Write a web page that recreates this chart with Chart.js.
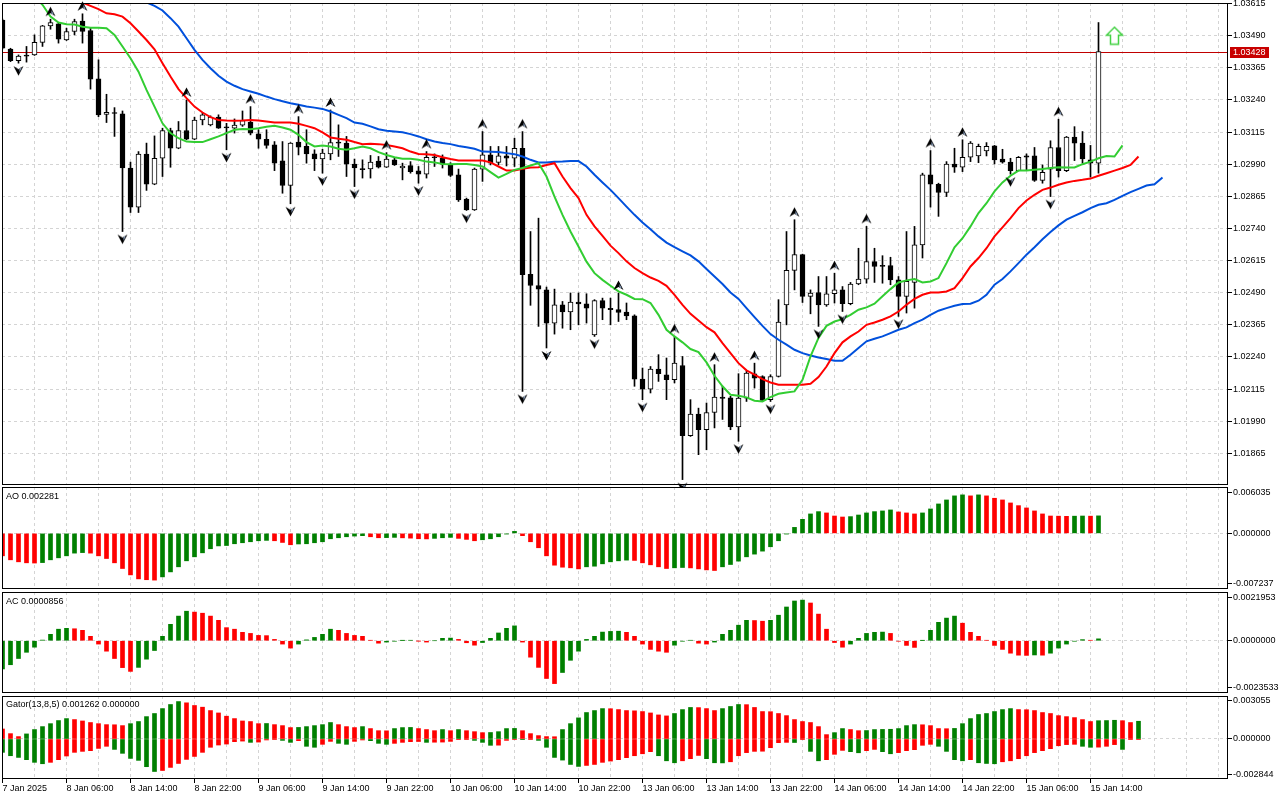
<!DOCTYPE html>
<html>
<head>
<meta charset="utf-8">
<script src="https://cdn.jsdelivr.net/npm/chart.js@4.4.1/dist/chart.umd.min.js"></script>
<style>
  body { margin: 0; background: #fff; width: 1280px; height: 800px; overflow: hidden; position: relative;
         font-family: "Liberation Sans", Arial, sans-serif; }
  canvas { position: absolute; left: 0; }
  .lbl { position: absolute; left: 6px; font-size: 9px; line-height: 11px; color: #000; white-space: nowrap; }
</style>
</head>
<body>
<canvas id="main" width="1280" height="487" style="top:0"></canvas>
<canvas id="ao" width="1280" height="104" style="top:486px"></canvas>
<canvas id="ac" width="1280" height="101" style="top:592px"></canvas>
<canvas id="gator" width="1280" height="105" style="top:695px"></canvas>
<div class="lbl" style="top:491px">AO 0.002281</div>
<div class="lbl" style="top:596px">AC 0.0000856</div>
<div class="lbl" style="top:699px">Gator(13,8,5) 0.001262 0.000000</div>
<script>
// EURUSD-style H1 bars, 7 Jan 22:00 .. 15 Jan 15:00
const opens = [1.03551,1.03438,1.03393,1.03414,1.03415,1.03464,1.03528,1.03536,1.03473,1.03506,
  1.03547,1.03510,1.03322,1.03184,1.03191,1.03186,1.02975,1.02823,1.03029,1.02912,
  1.03013,1.03121,1.03052,1.03121,1.03087,1.03162,1.03143,1.03173,1.03134,1.03130,
  1.03142,1.03153,1.03108,1.03087,1.03065,1.03003,1.02907,1.03076,1.03059,1.03030,
  1.03010,1.03030,1.03076,1.03072,1.02990,1.02972,1.02972,1.03002,1.02978,1.03007,
  1.02975,1.02985,1.02964,1.02951,1.03018,1.03013,1.02987,1.02949,1.02854,1.02812,
  1.02971,1.03026,1.02997,1.03022,1.03013,1.03052,1.02562,1.02518,1.02501,1.02372,
  1.02443,1.02415,1.02454,1.02447,1.02326,1.02459,1.02429,1.02424,1.02415,1.02400,
  1.02154,1.02115,1.02193,1.02171,1.02152,1.02207,1.01934,1.02018,1.01957,1.02024,
  1.02084,1.02081,1.01968,1.02080,1.02174,1.02164,1.02074,1.02164,1.02443,1.02577,
  1.02638,1.02476,1.02491,1.02443,1.02486,1.02501,1.02447,1.02524,1.02543,1.02611,
  1.02597,1.02596,1.02540,1.02476,1.02530,1.02676,1.02949,1.02912,1.02880,1.02990,
  1.02978,1.03017,1.03022,1.03042,1.03061,1.03010,1.02998,1.02965,1.03022,1.03022,
  1.02927,1.02971,1.03055,1.02965,1.03095,1.03072,1.03007,1.02994];
const highs = [1.03554,1.03441,1.03415,1.03448,1.03493,1.03530,1.03554,1.03541,1.03519,1.03554,
  1.03575,1.03519,1.03396,1.03262,1.03210,1.03197,1.02998,1.03039,1.03072,1.03100,
  1.03130,1.03130,1.03156,1.03240,1.03173,1.03191,1.03178,1.03182,1.03149,1.03166,
  1.03197,1.03214,1.03124,1.03124,1.03078,1.03078,1.03074,1.03175,1.03124,1.03046,
  1.03048,1.03201,1.03143,1.03098,1.03010,1.03007,1.03024,1.03020,1.03035,1.03013,
  1.02994,1.03000,1.02981,1.03039,1.03030,1.03026,1.02996,1.02971,1.02858,1.02975,
  1.03117,1.03059,1.03059,1.03059,1.03091,1.03117,1.02728,1.02780,1.02512,1.02504,
  1.02456,1.02489,1.02489,1.02486,1.02463,1.02469,1.02469,1.02489,1.02450,1.02404,
  1.02197,1.02203,1.02249,1.02236,1.02320,1.02242,1.02074,1.02041,1.02061,1.02210,
  1.02126,1.02087,1.02175,1.02184,1.02216,1.02167,1.02171,1.02463,1.02728,1.02774,
  1.02640,1.02501,1.02553,1.02553,1.02566,1.02514,1.02530,1.02663,1.02748,1.02663,
  1.02634,1.02628,1.02553,1.02728,1.02748,1.02955,1.03043,1.02916,1.03000,1.03052,
  1.03085,1.03078,1.03068,1.03074,1.03063,1.03048,1.03013,1.03020,1.03030,1.03055,
  1.02987,1.03081,1.03165,1.03098,1.03136,1.03117,1.03063,1.03541];
const lows = [1.03438,1.03389,1.03383,1.03387,1.03413,1.03448,1.03515,1.03461,1.03471,1.03493,
  1.03461,1.03282,1.03175,1.03152,1.03098,1.02728,1.02802,1.02802,1.02888,1.02910,
  1.02942,1.02978,1.03050,1.03085,1.03085,1.03143,1.03139,1.03129,1.03046,1.03111,
  1.03137,1.03104,1.03052,1.03052,1.02965,1.02877,1.02836,1.03026,1.02994,1.02965,
  1.02955,1.03007,1.03020,1.02942,1.02903,1.02936,1.02936,1.02975,1.02977,1.02985,
  1.02929,1.02955,1.02916,1.02936,1.02981,1.02975,1.02942,1.02845,1.02810,1.02810,
  1.02923,1.02987,1.02987,1.02983,1.02981,1.02106,1.02441,1.02359,1.02275,1.02329,
  1.02352,1.02346,1.02365,1.02372,1.02320,1.02385,1.02365,1.02378,1.02385,1.02126,
  1.02074,1.02100,1.02145,1.02074,1.02139,1.01763,1.01931,1.01860,1.01879,1.01964,
  1.01997,1.01957,1.01912,1.02067,1.02119,1.02067,1.02067,1.02162,1.02365,1.02501,
  1.02452,1.02408,1.02359,1.02437,1.02450,1.02417,1.02443,1.02521,1.02527,1.02530,
  1.02527,1.02521,1.02398,1.02411,1.02430,1.02625,1.02823,1.02787,1.02864,1.02958,
  1.02961,1.03000,1.02996,1.03022,1.02991,1.02994,1.02951,1.02964,1.02968,1.02923,
  1.02916,1.02864,1.02940,1.02961,1.03004,1.02994,1.02940,1.02955];
const closes = [1.03441,1.03393,1.03411,1.03410,1.03464,1.03528,1.03541,1.03476,1.03506,1.03545,
  1.03506,1.03321,1.03182,1.03192,1.03187,1.02975,1.02823,1.03029,1.02912,1.03013,
  1.03121,1.03052,1.03121,1.03087,1.03162,1.03182,1.03173,1.03130,1.03131,1.03142,
  1.03160,1.03111,1.03087,1.03063,1.02994,1.02907,1.03072,1.03056,1.03030,1.03010,
  1.03033,1.03074,1.03072,1.02990,1.02975,1.02969,1.02998,1.02978,1.03010,1.02987,
  1.02983,1.02961,1.02951,1.03017,1.03015,1.02990,1.02946,1.02851,1.02812,1.02971,
  1.03026,1.02994,1.03022,1.03013,1.03052,1.02560,1.02518,1.02504,1.02372,1.02443,
  1.02415,1.02454,1.02446,1.02430,1.02459,1.02430,1.02424,1.02413,1.02400,1.02154,
  1.02115,1.02193,1.02175,1.02152,1.02216,1.01934,1.02018,1.01957,1.02024,1.02084,
  1.02079,1.01968,1.02080,1.02177,1.02158,1.02071,1.02164,1.02376,1.02577,1.02638,
  1.02476,1.02489,1.02443,1.02486,1.02501,1.02447,1.02524,1.02543,1.02611,1.02592,
  1.02592,1.02540,1.02476,1.02534,1.02676,1.02949,1.02912,1.02880,1.02990,1.02978,
  1.03017,1.03072,1.03059,1.03059,1.03007,1.02998,1.02965,1.03017,1.03017,1.02927,
  1.02958,1.03055,1.02965,1.03095,1.03072,1.03010,1.02994,1.03428];
const lastPrice = 1.03428;

// bars carrying a fractal
const fractalUp = [6,10,23,31,37,41,48,53,60,65,77,84,89,94,99,104,108,116,120,132];
const fractalDown = [2,15,28,36,40,44,52,58,65,68,74,80,85,92,96,102,105,112,126,131];

// alligator lines (already shifted forward), first bar index + values
const jawFrom = 16;
const jaw = [1.03681,1.03648,1.03619,1.03606,1.03588,1.03558,1.03525,1.03480,1.03435,1.03396,
  1.03363,1.03334,1.03311,1.03295,1.03282,1.03273,1.03264,1.03253,1.03243,1.03235,
  1.03227,1.03221,1.03214,1.03210,1.03205,1.03195,1.03182,1.03169,1.03152,1.03147,
  1.03137,1.03126,1.03120,1.03117,1.03114,1.03107,1.03098,1.03087,1.03078,1.03072,
  1.03068,1.03061,1.03056,1.03050,1.03039,1.03038,1.03037,1.03033,1.03029,1.03020,
  1.03007,1.02997,1.02997,1.02999,1.03000,1.03002,1.03002,1.02981,1.02949,1.02919,
  1.02890,1.02858,1.02825,1.02793,1.02763,1.02737,1.02709,1.02685,1.02667,1.02651,
  1.02635,1.02612,1.02582,1.02553,1.02524,1.02491,1.02466,1.02430,1.02395,1.02361,
  1.02329,1.02307,1.02288,1.02268,1.02255,1.02246,1.02238,1.02232,1.02225,1.02225,
  1.02249,1.02275,1.02301,1.02311,1.02320,1.02333,1.02346,1.02355,1.02372,1.02385,
  1.02404,1.02420,1.02430,1.02439,1.02446,1.02447,1.02459,1.02482,1.02521,1.02543,
  1.02573,1.02605,1.02638,1.02667,1.02698,1.02726,1.02752,1.02774,1.02789,1.02803,
  1.02819,1.02832,1.02838,1.02851,1.02867,1.02881,1.02894,1.02907,1.02912,1.02938];
const teethFrom = 9;
const teeth = [1.03635,1.03619,1.03606,1.03593,1.03577,1.03573,1.03564,1.03538,1.03506,1.03473,
  1.03437,1.03383,1.03331,1.03282,1.03247,1.03214,1.03191,1.03173,1.03162,1.03160,
  1.03159,1.03160,1.03162,1.03160,1.03156,1.03152,1.03152,1.03152,1.03147,1.03139,
  1.03130,1.03114,1.03094,1.03089,1.03085,1.03076,1.03068,1.03069,1.03068,1.03065,
  1.03059,1.03052,1.03039,1.03030,1.03029,1.03026,1.03017,1.03010,1.03004,1.03004,
  1.03004,1.03004,1.02997,1.02981,1.02965,1.02965,1.02972,1.02977,1.02978,1.02987,
  1.02994,1.02942,1.02897,1.02858,1.02793,1.02748,1.02711,1.02673,1.02644,1.02612,
  1.02586,1.02566,1.02549,1.02536,1.02517,1.02482,1.02443,1.02408,1.02382,1.02356,
  1.02336,1.02294,1.02255,1.02216,1.02188,1.02171,1.02154,1.02141,1.02132,1.02132,
  1.02132,1.02132,1.02136,1.02162,1.02203,1.02255,1.02297,1.02320,1.02339,1.02365,
  1.02374,1.02385,1.02398,1.02417,1.02443,1.02466,1.02482,1.02491,1.02491,1.02495,
  1.02508,1.02547,1.02592,1.02625,1.02663,1.02709,1.02744,1.02780,1.02819,1.02849,
  1.02871,1.02890,1.02899,1.02910,1.02919,1.02925,1.02929,1.02934,1.02945,1.02955,
  1.02965,1.02975,1.02987,1.03020];
const lipsFrom = 4;
const lips = [1.03642,1.03610,1.03564,1.03541,1.03534,1.03533,1.03525,1.03521,1.03521,1.03519,
  1.03493,1.03448,1.03402,1.03350,1.03279,1.03214,1.03149,1.03111,1.03091,1.03078,
  1.03076,1.03076,1.03087,1.03098,1.03111,1.03124,1.03127,1.03126,1.03130,1.03136,
  1.03139,1.03133,1.03124,1.03104,1.03076,1.03059,1.03063,1.03059,1.03050,1.03046,
  1.03052,1.03059,1.03052,1.03037,1.03026,1.03017,1.03011,1.03011,1.03007,1.03000,
  1.02997,1.02991,1.02990,1.02991,1.02991,1.02987,1.02981,1.02959,1.02938,1.02952,
  1.02968,1.02975,1.02985,1.02994,1.02942,1.02864,1.02793,1.02728,1.02670,1.02611,
  1.02566,1.02540,1.02517,1.02495,1.02482,1.02466,1.02465,1.02450,1.02404,1.02346,
  1.02320,1.02297,1.02271,1.02259,1.02219,1.02167,1.02126,1.02093,1.02089,1.02083,
  1.02070,1.02067,1.02084,1.02097,1.02102,1.02106,1.02151,1.02242,1.02314,1.02361,
  1.02378,1.02387,1.02404,1.02424,1.02433,1.02447,1.02476,1.02504,1.02530,1.02538,
  1.02543,1.02530,1.02534,1.02547,1.02605,1.02667,1.02702,1.02748,1.02800,1.02838,
  1.02884,1.02919,1.02945,1.02965,1.02965,1.02968,1.02971,1.02975,1.02978,1.02977,
  1.02977,1.02990,1.03000,1.03013,1.03022,1.03020,1.03063];

const signalBar = 139;
const signalPrice = 1.03490;

const ao = [-0.00292,-0.00344,-0.00370,-0.00383,-0.00386,-0.00380,-0.00344,-0.00318,-0.00292,-0.00257,
  -0.00250,-0.00257,-0.00292,-0.00327,-0.00383,-0.00457,-0.00540,-0.00592,-0.00603,-0.00608,
  -0.00566,-0.00501,-0.00435,-0.00357,-0.00305,-0.00253,-0.00200,-0.00163,-0.00158,-0.00135,
  -0.00122,-0.00109,-0.00096,-0.00091,-0.00096,-0.00118,-0.00148,-0.00138,-0.00135,-0.00122,
  -0.00109,-0.00070,-0.00057,-0.00044,-0.00035,-0.00030,-0.00044,-0.00057,-0.00055,-0.00052,
  -0.00058,-0.00062,-0.00070,-0.00072,-0.00065,-0.00057,-0.00052,-0.00065,-0.00078,-0.00096,
  -0.00083,-0.00070,-0.00044,-0.00009,0.00026,-0.00030,-0.00109,-0.00187,-0.00292,-0.00414,
  -0.00440,-0.00448,-0.00462,-0.00435,-0.00427,-0.00396,-0.00370,-0.00357,-0.00348,-0.00352,
  -0.00383,-0.00409,-0.00435,-0.00457,-0.00448,-0.00444,-0.00449,-0.00462,-0.00475,-0.00483,
  -0.00435,-0.00405,-0.00361,-0.00305,-0.00270,-0.00231,-0.00174,-0.00096,-0.00009,0.00078,
  0.00183,0.00253,0.00283,0.00266,0.00226,0.00213,0.00218,0.00239,0.00266,0.00283,
  0.00292,0.00305,0.00279,0.00266,0.00253,0.00266,0.00318,0.00383,0.00435,0.00488,
  0.00501,0.00488,0.00501,0.00488,0.00457,0.00435,0.00396,0.00361,0.00331,0.00292,
  0.00253,0.00226,0.00224,0.00222,0.00224,0.00226,0.00224,0.00228];
const ac = [-0.00127,-0.00108,-0.00080,-0.00052,-0.00029,0.00003,0.00029,0.00052,0.00056,0.00054,
  0.00047,0.00020,-0.00015,-0.00047,-0.00080,-0.00121,-0.00138,-0.00120,-0.00083,-0.00044,
  0.00020,0.00074,0.00111,0.00133,0.00129,0.00124,0.00111,0.00092,0.00059,0.00052,
  0.00038,0.00033,0.00024,0.00023,0.00006,-0.00015,-0.00033,-0.00015,0.00004,0.00015,
  0.00029,0.00052,0.00047,0.00033,0.00024,0.00020,0.00002,-0.00011,-0.00006,-0.00002,
  0.00001,0.00002,-0.00001,-0.00006,0.00000,0.00011,0.00012,0.00006,-0.00009,-0.00020,
  -0.00008,0.00011,0.00035,0.00056,0.00067,-0.00006,-0.00074,-0.00120,-0.00170,-0.00193,
  -0.00143,-0.00088,-0.00047,0.00006,0.00020,0.00039,0.00042,0.00043,0.00038,0.00020,
  -0.00015,-0.00039,-0.00047,-0.00052,-0.00020,-0.00002,0.00002,-0.00011,-0.00015,-0.00006,
  0.00029,0.00047,0.00070,0.00092,0.00091,0.00088,0.00092,0.00115,0.00152,0.00179,
  0.00183,0.00170,0.00120,0.00052,-0.00008,-0.00029,-0.00015,0.00011,0.00033,0.00038,
  0.00039,0.00033,-0.00002,-0.00021,-0.00030,0.00001,0.00047,0.00083,0.00102,0.00111,
  0.00079,0.00038,0.00020,0.00002,-0.00021,-0.00039,-0.00056,-0.00065,-0.00066,-0.00064,
  -0.00065,-0.00056,-0.00033,-0.00015,-0.00002,0.00005,0.00002,0.0000856];
const gatorUp = [0.00071,0.00038,0.00017,0.00036,0.00067,0.00088,0.00109,0.00131,0.00145,0.00138,
  0.00128,0.00117,0.00109,0.00102,0.00101,0.00095,0.00109,0.00124,0.00159,0.00181,
  0.00216,0.00245,0.00266,0.00257,0.00238,0.00226,0.00202,0.00185,0.00162,0.00145,
  0.00128,0.00124,0.00109,0.00110,0.00102,0.00095,0.00081,0.00082,0.00088,0.00095,
  0.00102,0.00117,0.00102,0.00088,0.00081,0.00088,0.00074,0.00059,0.00058,0.00074,
  0.00081,0.00082,0.00074,0.00067,0.00059,0.00067,0.00059,0.00067,0.00059,0.00052,
  0.00045,0.00046,0.00052,0.00074,0.00075,0.00059,0.00038,0.00024,0.00017,0.00016,
  0.00067,0.00109,0.00150,0.00188,0.00202,0.00216,0.00215,0.00209,0.00202,0.00200,
  0.00195,0.00185,0.00171,0.00164,0.00181,0.00209,0.00224,0.00223,0.00216,0.00202,
  0.00216,0.00231,0.00245,0.00244,0.00224,0.00195,0.00194,0.00181,0.00166,0.00138,
  0.00124,0.00117,0.00088,0.00031,0.00045,0.00074,0.00067,0.00059,0.00060,0.00067,
  0.00068,0.00069,0.00074,0.00095,0.00102,0.00101,0.00095,0.00074,0.00073,0.00075,
  0.00109,0.00145,0.00174,0.00181,0.00195,0.00209,0.00216,0.00209,0.00208,0.00202,
  0.00188,0.00181,0.00166,0.00159,0.00152,0.00138,0.00124,0.00130,0.00131,0.00133,
  0.00130,0.00117,0.00126];
const gatorDown = [-0.00095,-0.00119,-0.00131,-0.00147,-0.00166,-0.00176,-0.00166,-0.00147,-0.00121,-0.00095,
  -0.00088,-0.00083,-0.00067,-0.00052,-0.00074,-0.00102,-0.00138,-0.00152,-0.00197,-0.00231,
  -0.00224,-0.00202,-0.00174,-0.00145,-0.00124,-0.00095,-0.00059,-0.00043,-0.00036,-0.00019,
  -0.00015,-0.00024,-0.00022,-0.00007,-0.00002,-0.00010,-0.00024,-0.00012,-0.00052,-0.00059,
  -0.00038,-0.00017,-0.00031,-0.00038,-0.00017,-0.00007,-0.00012,-0.00031,-0.00038,-0.00031,
  -0.00024,-0.00019,-0.00018,-0.00024,-0.00023,-0.00022,-0.00017,-0.00005,-0.00002,-0.00010,
  -0.00024,-0.00045,-0.00044,-0.00010,-0.00002,-0.00005,-0.00002,-0.00010,-0.00059,-0.00131,
  -0.00150,-0.00181,-0.00195,-0.00188,-0.00181,-0.00166,-0.00157,-0.00147,-0.00133,-0.00119,
  -0.00105,-0.00090,-0.00119,-0.00155,-0.00169,-0.00155,-0.00140,-0.00117,-0.00140,-0.00169,
  -0.00170,-0.00162,-0.00119,-0.00097,-0.00088,-0.00087,-0.00062,-0.00026,-0.00024,-0.00025,
  -0.00002,-0.00088,-0.00155,-0.00147,-0.00109,-0.00081,-0.00090,-0.00098,-0.00083,-0.00074,
  -0.00090,-0.00105,-0.00097,-0.00083,-0.00076,-0.00045,-0.00038,-0.00052,-0.00088,-0.00147,
  -0.00155,-0.00147,-0.00169,-0.00174,-0.00176,-0.00162,-0.00155,-0.00140,-0.00119,-0.00097,
  -0.00083,-0.00069,-0.00048,-0.00040,-0.00038,-0.00052,-0.00059,-0.00058,-0.00052,-0.00040,
  -0.00074,-0.00002,-0.00001];

// one label every 8 bars, starting at bar 0
const timeLabels = ['7 Jan 2025','8 Jan 06:00','8 Jan 14:00','8 Jan 22:00','9 Jan 06:00','9 Jan 14:00',
  '9 Jan 22:00','10 Jan 06:00','10 Jan 14:00','10 Jan 22:00','13 Jan 06:00','13 Jan 14:00',
  '13 Jan 22:00','14 Jan 06:00','14 Jan 14:00','14 Jan 22:00','15 Jan 06:00','15 Jan 14:00'];
const priceTicks = [1.01865,1.01990,1.02115,1.02240,1.02365,1.02490,1.02615,1.02740,
  1.02865,1.02990,1.03115,1.03240,1.03365,1.03490,1.03615];
const priceRange = [1.01742, 1.03617];
const aoRange = [-0.007237, 0.006035];
const acRange = [-0.0023533, 0.0021953];
const gatorRange = [-0.002844, 0.003055];

Chart.defaults.font.family = '"Liberation Sans", Arial, sans-serif';
Chart.defaults.font.size = 9;
Chart.defaults.color = '#000';
Chart.defaults.animation = false;
Chart.defaults.responsive = false;
Chart.defaults.devicePixelRatio = 1;
Chart.defaults.events = [];
Chart.defaults.plugins.legend.display = false;
Chart.defaults.plugins.tooltip.enabled = false;

const GRID = '#d4d4d4';
const UP = '#008000', DOWN = '#ff0000';
const X_MIN = -0.0625, X_MAX = X_MIN + 1226 / 8;   // 8 px per bar
const NONE = 'rgba(0,0,0,0)';

// black frame round each pane
const frame = {
  id: 'frame',
  afterDraw(chart) {
    const { ctx, chartArea: a } = chart;
    ctx.save();
    ctx.strokeStyle = '#000';
    ctx.lineWidth = 1;
    ctx.strokeRect(Math.round(a.left) + 0.5, Math.round(a.top) + 0.5,
      Math.round(a.right - a.left) - 1, Math.round(a.bottom - a.top) - 1);
    ctx.restore();
  }
};

const priceLine = {
  id: 'priceLine',
  beforeDatasetsDraw(chart) {
    const { ctx, chartArea: a, scales } = chart;
    const y = Math.round(scales.y.getPixelForValue(lastPrice)) + 0.5;
    ctx.save();
    ctx.strokeStyle = '#c00000';
    ctx.lineWidth = 1;
    ctx.beginPath(); ctx.moveTo(a.left, y); ctx.lineTo(a.right, y); ctx.stroke();
    ctx.restore();
  },
  afterDraw(chart) {
    const { ctx, chartArea: a, scales } = chart;
    const y = Math.round(scales.y.getPixelForValue(lastPrice));
    ctx.save();
    ctx.fillStyle = '#c80000';
    ctx.fillRect(a.right + 2, y - 5, 39, 11);
    ctx.fillStyle = '#fff';
    ctx.font = '9px "Liberation Sans", Arial, sans-serif';
    ctx.textBaseline = 'middle';
    ctx.fillText(lastPrice.toFixed(5), a.right + 5, y + 0.5);
    ctx.restore();
  }
};

function xAxis(withLabels) {
  return {
    type: 'linear', min: X_MIN, max: X_MAX, offset: false,
    grid: {
      offset: false, color: GRID, drawTicks: withLabels, tickLength: 4,
      tickColor: c => (c.tick && c.tick.value % 8 === 0 && timeLabels[c.tick.value / 8]) ? '#000' : NONE
    },
    border: { display: false, dash: [3, 3] },
    ticks: {
      display: withLabels, autoSkip: false, maxRotation: 0, minRotation: 0, align: 'start', padding: 0,
      callback: v => (v % 8 === 0 && timeLabels[v / 8]) ? timeLabels[v / 8] : ''
    },
    afterBuildTicks: s => {
      const t = [];
      for (let v = 0; v <= X_MAX; v += 4) t.push({ value: v });
      s.ticks = t;
    },
    afterFit: s => { s.height = withLabels ? 21 : 0; s.paddingLeft = 0; s.paddingRight = 0; }
  };
}

function indicatorY(range, digits) {
  const shown = [range[0], 0, range[1]];
  return {
    position: 'right', min: range[0], max: range[1],
    grid: { color: c => (c.tick && c.tick.value === 0) ? GRID : NONE, tickLength: 4, tickColor: '#000' },
    border: { display: false, dash: [3, 3] },
    ticks: { padding: 1, autoSkip: false, callback: (v, i) => shown[i].toFixed(digits) },
    // end labels sit just inside the pane, like the terminal does
    afterBuildTicks: s => {
      const span = range[1] - range[0];
      s.ticks = [{ value: range[0] + span * 0.05 }, { value: 0 }, { value: range[1] - span * 0.05 }];
    },
    afterFit: s => { s.width = 52; s.paddingTop = 0; s.paddingBottom = 0; }
  };
}

function risingColors(vals, firstUp, byMagnitude) {
  return vals.map((v, i) => {
    const up = i === 0 ? firstUp
      : byMagnitude ? Math.abs(v) > Math.abs(vals[i - 1]) : v > vals[i - 1];
    return up ? UP : DOWN;
  });
}

function arrowImage(up) {
  const c = document.createElement('canvas');
  c.width = 11; c.height = 30;
  const g = c.getContext('2d');
  if (!up) { g.translate(0, 30); g.scale(1, -1); }
  g.beginPath(); g.moveTo(5.5, 2.5); g.lineTo(10.5, 12); g.lineTo(5.5, 9); g.lineTo(0.5, 12); g.closePath();
  g.fillStyle = '#000'; g.fill();
  // thin light facet on the right side
  g.beginPath(); g.moveTo(6.5, 6); g.lineTo(8.8, 10.6); g.lineTo(6.5, 9.2); g.closePath();
  g.fillStyle = '#9ab4d8'; g.fill();
  return c;
}

function signalImage() {
  const c = document.createElement('canvas');
  c.width = 19; c.height = 20;
  const g = c.getContext('2d');
  g.beginPath();
  g.moveTo(9.5, 1.5); g.lineTo(17.5, 9.5); g.lineTo(13.5, 9.5); g.lineTo(13.5, 18.5);
  g.lineTo(5.5, 18.5); g.lineTo(5.5, 9.5); g.lineTo(1.5, 9.5); g.closePath();
  g.fillStyle = '#fff'; g.fill();
  g.strokeStyle = '#46d246'; g.lineWidth = 1.5; g.stroke();
  return c;
}

const bars = opens.map((_, i) => i);
const alligator = (from, vals, color) => ({
  type: 'line', data: vals.map((v, k) => ({ x: from + k, y: v })),
  borderColor: color, borderWidth: 2, pointRadius: 0, tension: 0, order: 2
});

new Chart(document.getElementById('main'), {
  type: 'bar',
  data: {
    datasets: [
      { type: 'scatter', data: [{ x: signalBar, y: signalPrice }], pointStyle: signalImage(), pointRadius: 8, clip: false, order: 0 },
      { type: 'scatter', data: fractalUp.map(i => ({ x: i, y: highs[i] })), pointStyle: arrowImage(true), pointRadius: 5, clip: false, order: 1 },
      { type: 'scatter', data: fractalDown.map(i => ({ x: i, y: lows[i] })), pointStyle: arrowImage(false), pointRadius: 5, clip: false, order: 1 },
      alligator(lipsFrom, lips, '#32cd32'),
      alligator(teethFrom, teeth, '#ff0000'),
      alligator(jawFrom, jaw, '#0050dc'),
      {
        data: bars.map(i => ({ x: i, y: [opens[i], closes[i]] })),
        backgroundColor: bars.map(i => closes[i] > opens[i] ? '#fff' : '#000'),
        borderColor: '#000', borderWidth: 1, borderSkipped: false,
        barThickness: 5, minBarLength: 1, grouped: false, order: 3
      },
      {
        data: bars.map(i => ({ x: i, y: [lows[i], highs[i]] })),
        backgroundColor: '#000', barThickness: 1, minBarLength: 1, grouped: false, order: 4
      }
    ]
  },
  options: {
    layout: { autoPadding: false, padding: { left: 2, top: 3, right: 0, bottom: 2 } },
    scales: {
      x: xAxis(false),
      y: {
        position: 'right', min: priceRange[0], max: priceRange[1],
        grid: { color: GRID, tickLength: 4, tickColor: '#000' },
        border: { display: false, dash: [3, 3] },
        ticks: { padding: 1, autoSkip: false, callback: v => v.toFixed(5) },
        afterBuildTicks: s => { s.ticks = priceTicks.map(v => ({ value: v })); },
        afterFit: s => { s.width = 52; s.paddingTop = 0; s.paddingBottom = 0; }
      }
    }
  },
  plugins: [frame, priceLine]
});

function histChart(id, datasets, range, digits, withLabels, padTop, padBottom) {
  return new Chart(document.getElementById(id), {
    type: 'bar',
    data: { datasets },
    options: {
      layout: { autoPadding: false, padding: { left: 2, top: padTop, right: 0, bottom: padBottom } },
      scales: { x: xAxis(withLabels), y: indicatorY(range, digits) }
    },
    plugins: [frame]
  });
}

const hist = (vals, colors) => ({
  data: vals.map((v, i) => ({ x: i, y: v })),
  backgroundColor: colors, barThickness: 4, grouped: false
});

histChart('ao', [hist(ao, risingColors(ao, false, false))], aoRange, 6, false, 1, 1);
histChart('ac', [hist(ac, risingColors(ac, true, false))], acRange, 7, false, 0, 0);
histChart('gator', [
  hist(gatorUp, risingColors(gatorUp, false, true)),
  hist(gatorDown, risingColors(gatorDown, true, true))
], gatorRange, 6, true, 1, 0);
</script>
</body>
</html>
